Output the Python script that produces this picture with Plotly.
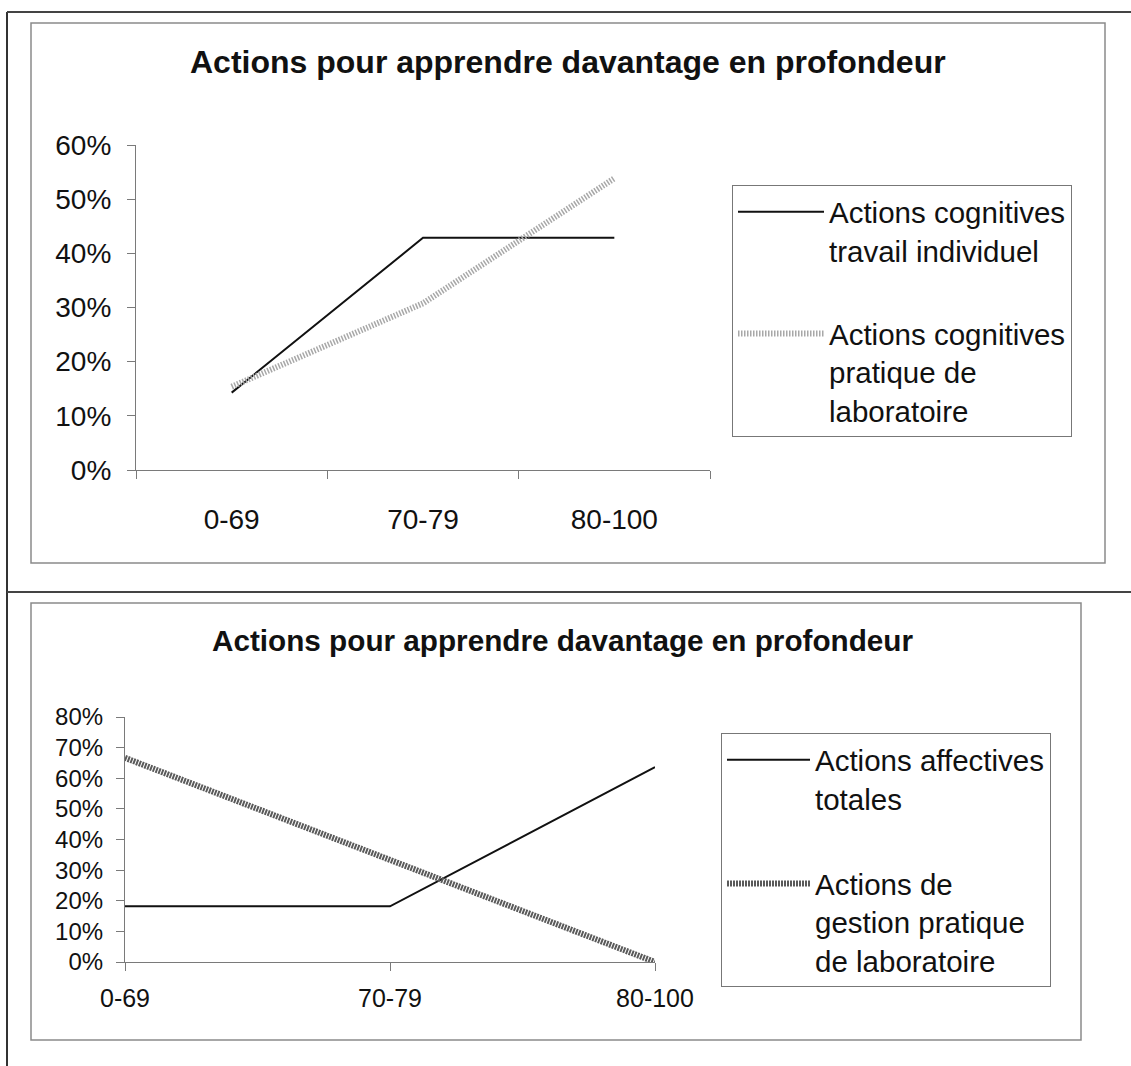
import plotly.graph_objects as go

# ---------------- data ----------------
categories = ["0-69", "70-79", "80-100"]

top_title = "<b>Actions pour apprendre davantage en profondeur</b>"
top_series_names = ["Actions cognitives<br>travail individuel",
                    "Actions cognitives<br>pratique de<br>laboratoire"]
top_travail_individuel = [0.1429, 0.4286, 0.4286]
top_pratique_labo = [0.1538, 0.3077, 0.5385]

bottom_title = "<b>Actions pour apprendre davantage en profondeur</b>"
bottom_series_names = ["Actions affectives<br>totales",
                       "Actions de<br>gestion pratique<br>de laboratoire"]
bottom_affectives = [0.1818, 0.1818, 0.6364]
bottom_gestion_labo = [0.6667, 0.3333, 0.0]

W, H = 1131, 1066
FONT = "Arial, Liberation Sans, sans-serif"
AXIS_COLOR = "#7a7a7a"


def px_x(x):
    return x / W


def px_y(y):
    return 1 - y / H


fig = go.Figure()

# ---- top chart traces ----
fig.add_trace(go.Scatter(
    x=categories, y=top_travail_individuel, name=top_series_names[0],
    mode="lines", line=dict(color="#111111", width=2),
    xaxis="x", yaxis="y", legend="legend", legendgroup="t1"))
fig.add_trace(go.Scatter(
    x=categories, y=top_pratique_labo, name=top_series_names[1],
    mode="lines", line=dict(color="#a8a8a8", width=6, dash="1.5px,1.5px"),
    xaxis="x", yaxis="y", legend="legend", legendgroup="t2"))

# ---- bottom chart traces ----
fig.add_trace(go.Scatter(
    x=categories, y=bottom_affectives, name=bottom_series_names[0],
    mode="lines", line=dict(color="#111111", width=2),
    xaxis="x2", yaxis="y2", legend="legend2", legendgroup="b1"))
fig.add_trace(go.Scatter(
    x=categories, y=bottom_gestion_labo, name=bottom_series_names[1],
    mode="lines", line=dict(color="#5a5a5a", width=6, dash="2px,1px"),
    xaxis="x2", yaxis="y2", legend="legend2", legendgroup="b2"))

axis_common = dict(showgrid=False, zeroline=False, showline=True,
                   linecolor=AXIS_COLOR, linewidth=1.2, ticks="outside",
                   ticklen=8, tickcolor=AXIS_COLOR, tickwidth=1.2,
                   fixedrange=True, automargin=False)

fig.update_layout(
    width=W, height=H, autosize=False,
    margin=dict(l=0, r=0, t=0, b=0, pad=0, autoexpand=False),
    paper_bgcolor="white", plot_bgcolor="white",
    font=dict(family=FONT, color="#111111"),
    xaxis=dict(**axis_common, domain=[px_x(136), px_x(710)], anchor="y",
               type="category", range=[-0.5, 2.5], tickson="boundaries",
               tickfont=dict(size=28), ticklabelstandoff=24),
    yaxis=dict(**axis_common, domain=[px_y(470), px_y(145)], anchor="x",
               range=[0, 0.6], dtick=0.1, tickformat=".0%",
               tickfont=dict(size=28), ticklabelstandoff=10),
    xaxis2=dict(**axis_common, domain=[px_x(125), px_x(655)], anchor="y2",
                type="category", range=[0, 2],
                tickfont=dict(size=25), ticklabelstandoff=6),
    yaxis2=dict(**axis_common, domain=[px_y(962), px_y(717)], anchor="x2",
                range=[0, 0.8], dtick=0.1, tickformat=".0%",
                tickfont=dict(size=24), ticklabelstandoff=8),
    legend=dict(x=px_x(732), y=px_y(185), xanchor="left", yanchor="top",
                bordercolor="#777777", borderwidth=1, bgcolor="white",
                font=dict(size=29.5, family=FONT, color="#111111"),
                valign="top", itemwidth=86, tracegroupgap=42,
                entrywidth=262, entrywidthmode="pixels",
                traceorder="grouped", itemclick=False, itemdoubleclick=False),
    legend2=dict(x=px_x(721), y=px_y(733), xanchor="left", yanchor="top",
                 bordercolor="#777777", borderwidth=1, bgcolor="white",
                 font=dict(size=29.5, family=FONT, color="#111111"),
                 valign="top", itemwidth=83, tracegroupgap=44,
                 entrywidth=252, entrywidthmode="pixels",
                 traceorder="grouped", itemclick=False, itemdoubleclick=False),
    showlegend=True,
)

# titles
fig.add_annotation(text=top_title, x=px_x(568), y=px_y(62), xref="paper",
                   yref="paper", showarrow=False, xanchor="center",
                   yanchor="middle", font=dict(size=32, family=FONT, color="#111111"))
fig.add_annotation(text=bottom_title, x=px_x(562), y=px_y(640), xref="paper",
                   yref="paper", showarrow=False, xanchor="center",
                   yanchor="middle", font=dict(size=29.7, family=FONT, color="#111111"))

# page / chart frames
frame_shapes = [
    dict(type="line", x0=px_x(7), x1=px_x(7), y0=px_y(12), y1=px_y(1066),
         line=dict(color="#333333", width=2)),
    dict(type="line", x0=px_x(7), x1=px_x(1131), y0=px_y(12), y1=px_y(12),
         line=dict(color="#444444", width=2)),
    dict(type="line", x0=px_x(7), x1=px_x(1131), y0=px_y(592), y1=px_y(592),
         line=dict(color="#444444", width=2)),
    dict(type="rect", x0=px_x(31), x1=px_x(1105), y0=px_y(563), y1=px_y(23),
         line=dict(color="#8a8a8a", width=1.5)),
    dict(type="rect", x0=px_x(31), x1=px_x(1081), y0=px_y(1040), y1=px_y(603),
         line=dict(color="#8a8a8a", width=1.5)),
]
for s in frame_shapes:
    fig.add_shape(xref="paper", yref="paper", layer="below", **s)

fig.write_html(
    "out.html",
    config={"displayModeBar": False, "staticPlot": False},
    post_script="document.body.style.margin='0';document.body.style.overflow='hidden';",
)
